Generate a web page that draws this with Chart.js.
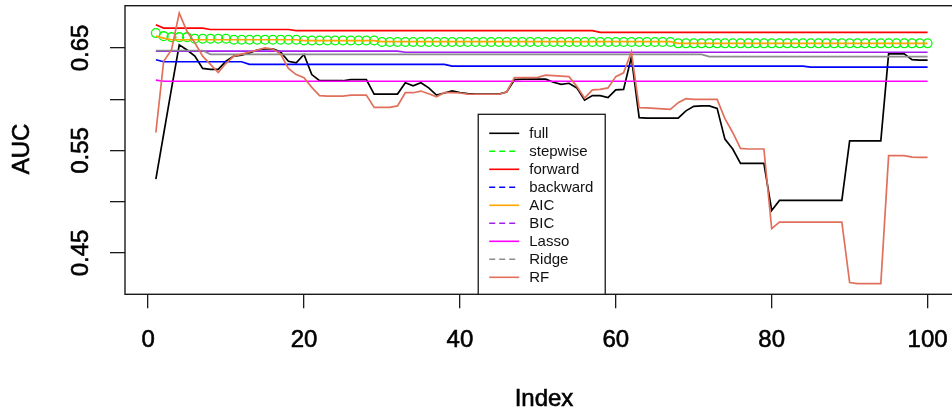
<!DOCTYPE html>
<html>
<head>
<meta charset="utf-8">
<script src="https://cdn.jsdelivr.net/npm/chart.js@4.4.1/dist/chart.umd.min.js"></script>
<style>
  html, body { margin: 0; padding: 0; background: #fff; }
</style>
</head>
<body>
<canvas id="aucChart" width="952" height="414"></canvas>
<script>
// index 1..100 (x axis)
const runIndex = Array.from({ length: 100 }, (_, i) => i + 1);

const xTicks = [0, 20, 40, 60, 80, 100];
const yTicks = [0.45, 0.50, 0.55, 0.60, 0.65];
const yTickLabels = ["0.45", "0.55", "0.65"];

const full = [
  0.522, 0.566, 0.610, 0.653, 0.648, 0.642, 0.630, 0.629, 0.629, 0.637,
  0.642, 0.643, 0.645, 0.648, 0.649, 0.649, 0.646, 0.637, 0.6355, 0.6436,
  0.624, 0.618, 0.618, 0.618, 0.618, 0.619, 0.619, 0.619, 0.605, 0.605,
  0.605, 0.605, 0.616, 0.613, 0.616, 0.611, 0.604, 0.606, 0.608, 0.6065,
  0.6055, 0.605, 0.605, 0.605, 0.605, 0.607, 0.619, 0.6195, 0.6195, 0.6195,
  0.6195, 0.6165, 0.6145, 0.6155, 0.611, 0.599, 0.6035, 0.6035, 0.6015, 0.609,
  0.6096, 0.641, 0.582, 0.5815, 0.5815, 0.5815, 0.5815, 0.5815, 0.5886, 0.593,
  0.5934, 0.5934, 0.591, 0.561, 0.5514, 0.5374, 0.5374, 0.5374, 0.5374, 0.4914,
  0.5012, 0.5012, 0.5012, 0.5012, 0.5012, 0.5012, 0.5012, 0.5012, 0.5012, 0.5594,
  0.5594, 0.5594, 0.5594, 0.5594, 0.6442, 0.6442, 0.6442, 0.6385, 0.638, 0.638
];

const stepwise = [
  0.6645, 0.6615, 0.6605, 0.6605, 0.6605, 0.659, 0.659, 0.659, 0.659, 0.659,
  0.658, 0.658, 0.658, 0.658, 0.658, 0.658, 0.658, 0.658, 0.658, 0.6572,
  0.6572, 0.6572, 0.6572, 0.6572, 0.6572, 0.6572, 0.6572, 0.6572, 0.6572, 0.6558,
  0.6558, 0.6558, 0.6558, 0.6558, 0.6558, 0.6558, 0.6558, 0.6558, 0.6558, 0.6558,
  0.6558, 0.6558, 0.6558, 0.6558, 0.6558, 0.6558, 0.6558, 0.6558, 0.6558, 0.6558,
  0.6558, 0.6558, 0.6558, 0.6558, 0.6558, 0.6558, 0.6558, 0.6558, 0.6558, 0.6558,
  0.6558, 0.6558, 0.6558, 0.6558, 0.6558, 0.6558, 0.6558, 0.6545, 0.6545, 0.6545,
  0.6545, 0.6545, 0.6545, 0.6545, 0.6545, 0.6545, 0.6545, 0.6545, 0.6545, 0.6545,
  0.6545, 0.6545, 0.6545, 0.6545, 0.6545, 0.6545, 0.6545, 0.6545, 0.6545, 0.6545,
  0.6545, 0.6545, 0.6545, 0.6545, 0.6545, 0.6545, 0.6545, 0.6545, 0.6545, 0.6545
];

const forward = [
  0.6727, 0.6694, 0.6694, 0.6694, 0.6694, 0.6694, 0.6694, 0.668, 0.668, 0.668,
  0.668, 0.668, 0.668, 0.668, 0.668, 0.668, 0.668, 0.668, 0.6669, 0.6669,
  0.6669, 0.6669, 0.6669, 0.6669, 0.6669, 0.6669, 0.6669, 0.6669, 0.6669, 0.6669,
  0.6669, 0.6669, 0.6669, 0.6669, 0.6669, 0.6669, 0.6669, 0.6669, 0.6669, 0.6669,
  0.6669, 0.6669, 0.6669, 0.6669, 0.6669, 0.6669, 0.6669, 0.6669, 0.6669, 0.6669,
  0.6669, 0.6669, 0.6669, 0.6669, 0.6669, 0.6669, 0.6669, 0.6652, 0.6652, 0.6652,
  0.6652, 0.6652, 0.6652, 0.6652, 0.6652, 0.6652, 0.6652, 0.6652, 0.6652, 0.6652,
  0.6652, 0.6652, 0.6652, 0.6652, 0.6652, 0.6652, 0.6652, 0.6652, 0.6652, 0.6652,
  0.6652, 0.6652, 0.6652, 0.6652, 0.6652, 0.6652, 0.6652, 0.6652, 0.6652, 0.6652,
  0.6652, 0.6652, 0.6652, 0.6652, 0.6652, 0.6652, 0.6652, 0.6652, 0.6652, 0.6652
];

const backward = [
  0.6385, 0.6365, 0.6365, 0.6365, 0.6365, 0.6365, 0.6365, 0.6365, 0.6365, 0.6365,
  0.6365, 0.6365, 0.634, 0.634, 0.634, 0.634, 0.634, 0.634, 0.634, 0.634,
  0.634, 0.634, 0.634, 0.634, 0.634, 0.634, 0.634, 0.634, 0.634, 0.634,
  0.634, 0.634, 0.634, 0.634, 0.634, 0.634, 0.634, 0.634, 0.6322, 0.6322,
  0.6322, 0.6322, 0.6322, 0.6322, 0.6322, 0.6322, 0.6322, 0.6322, 0.6322, 0.6322,
  0.6322, 0.6322, 0.6322, 0.6322, 0.6322, 0.6322, 0.6322, 0.6322, 0.6322, 0.6322,
  0.6322, 0.6322, 0.6322, 0.6322, 0.6322, 0.6322, 0.6322, 0.6322, 0.6322, 0.6322,
  0.6322, 0.6322, 0.6322, 0.6322, 0.6322, 0.6322, 0.6322, 0.6322, 0.6322, 0.6322,
  0.6322, 0.6322, 0.6322, 0.6322, 0.6312, 0.6312, 0.6312, 0.6312, 0.6312, 0.6312,
  0.6312, 0.6312, 0.6312, 0.6312, 0.6312, 0.6312, 0.6312, 0.6312, 0.6312, 0.6312
];

const aic = [
  0.6615, 0.6595, 0.658, 0.658, 0.658, 0.658, 0.658, 0.658, 0.658, 0.658,
  0.658, 0.658, 0.658, 0.658, 0.658, 0.658, 0.658, 0.658, 0.658, 0.6572,
  0.6572, 0.6572, 0.6572, 0.6572, 0.6572, 0.6572, 0.6572, 0.6572, 0.6572, 0.6562,
  0.6562, 0.6562, 0.6562, 0.6562, 0.6562, 0.6562, 0.6562, 0.6562, 0.6562, 0.6562,
  0.6562, 0.6562, 0.6562, 0.6562, 0.6562, 0.6562, 0.6562, 0.6562, 0.6562, 0.6562,
  0.6562, 0.6562, 0.6562, 0.6562, 0.6562, 0.6562, 0.6562, 0.6562, 0.6562, 0.6562,
  0.6562, 0.6562, 0.6562, 0.6562, 0.6562, 0.6562, 0.6562, 0.6545, 0.6545, 0.6545,
  0.6545, 0.6545, 0.6545, 0.6545, 0.6545, 0.6545, 0.6545, 0.6545, 0.6545, 0.6545,
  0.6545, 0.6545, 0.6545, 0.6545, 0.6545, 0.6545, 0.6545, 0.6545, 0.6545, 0.6545,
  0.6545, 0.6545, 0.6545, 0.6545, 0.6545, 0.6545, 0.6545, 0.6545, 0.6545, 0.6545
];

const bic = [
  0.6468, 0.6468, 0.6468, 0.6468, 0.6468, 0.6468, 0.6468, 0.6468, 0.6468, 0.6468,
  0.6468, 0.6468, 0.6468, 0.6468, 0.6468, 0.6468, 0.6468, 0.6468, 0.6468, 0.6468,
  0.6468, 0.6468, 0.6468, 0.6468, 0.6468, 0.6468, 0.6468, 0.6468, 0.6468, 0.6468,
  0.6468, 0.6468, 0.6458, 0.6458, 0.6458, 0.6458, 0.6458, 0.6458, 0.6458, 0.6458,
  0.6458, 0.6458, 0.6458, 0.6458, 0.6458, 0.6458, 0.6458, 0.6458, 0.6458, 0.6458,
  0.6458, 0.6458, 0.6458, 0.6458, 0.6458, 0.6458, 0.6458, 0.6458, 0.6458, 0.6458,
  0.6458, 0.6458, 0.6458, 0.6458, 0.6458, 0.6458, 0.6458, 0.6458, 0.6458, 0.6458,
  0.6458, 0.6458, 0.6458, 0.6458, 0.6458, 0.6458, 0.6458, 0.6458, 0.6458, 0.6458,
  0.6458, 0.6458, 0.6458, 0.6458, 0.6458, 0.6458, 0.6458, 0.6458, 0.6458, 0.6458,
  0.6458, 0.6458, 0.6458, 0.6458, 0.6458, 0.6458, 0.6458, 0.6458, 0.6458, 0.6458
];

const lasso = [
  0.6185, 0.6175, 0.6175, 0.6175, 0.6175, 0.6175, 0.6175, 0.6175, 0.6175, 0.6175,
  0.6175, 0.6175, 0.6175, 0.6175, 0.6175, 0.6175, 0.6175, 0.6175, 0.6175, 0.6175,
  0.6175, 0.6175, 0.6175, 0.6175, 0.6175, 0.6175, 0.6175, 0.6175, 0.6175, 0.6175,
  0.6175, 0.6175, 0.6175, 0.6175, 0.6175, 0.6175, 0.6175, 0.6175, 0.6175, 0.6175,
  0.6175, 0.6175, 0.6175, 0.6175, 0.6175, 0.6175, 0.6175, 0.6175, 0.6175, 0.6175,
  0.6175, 0.6175, 0.6175, 0.6175, 0.6175, 0.6175, 0.6175, 0.6175, 0.6175, 0.6175,
  0.6175, 0.6175, 0.6175, 0.6175, 0.6175, 0.6175, 0.6175, 0.6175, 0.6175, 0.6175,
  0.6175, 0.6175, 0.6175, 0.6175, 0.6175, 0.6175, 0.6175, 0.6175, 0.6175, 0.6175,
  0.6175, 0.6175, 0.6175, 0.6175, 0.6175, 0.6175, 0.6175, 0.6175, 0.6175, 0.6175,
  0.6175, 0.6175, 0.6175, 0.6175, 0.6175, 0.6175, 0.6175, 0.6175, 0.6175, 0.6175
];

const ridge = [
  0.6475, 0.6475, 0.6475, 0.6475, 0.6475, 0.6475, 0.6475, 0.6437, 0.6437, 0.6437,
  0.6437, 0.6437, 0.6437, 0.6437, 0.6437, 0.6437, 0.6437, 0.6437, 0.6437, 0.6437,
  0.6437, 0.6437, 0.6437, 0.6437, 0.6437, 0.6437, 0.6437, 0.6437, 0.6437, 0.6437,
  0.6437, 0.6437, 0.6437, 0.6437, 0.6437, 0.6437, 0.6437, 0.6437, 0.6437, 0.6437,
  0.6437, 0.6437, 0.6437, 0.6437, 0.6437, 0.6437, 0.6437, 0.6437, 0.6437, 0.6437,
  0.6437, 0.6437, 0.6437, 0.6437, 0.6437, 0.6437, 0.6437, 0.6437, 0.6437, 0.6437,
  0.6437, 0.6437, 0.6437, 0.6437, 0.6437, 0.6437, 0.6437, 0.6437, 0.6437, 0.6437,
  0.6437, 0.6415, 0.6415, 0.6415, 0.6415, 0.6415, 0.6415, 0.6415, 0.6415, 0.6415,
  0.6415, 0.6415, 0.6415, 0.6415, 0.6415, 0.6415, 0.6415, 0.6415, 0.6415, 0.6415,
  0.6415, 0.6415, 0.6415, 0.6415, 0.6415, 0.6415, 0.6415, 0.6415, 0.6415, 0.6415
];

const rf = [
  0.5675, 0.637, 0.648, 0.684, 0.666, 0.655, 0.642, 0.634, 0.626, 0.635,
  0.642, 0.644, 0.646, 0.648, 0.650, 0.649, 0.644, 0.630, 0.624, 0.621,
  0.6115, 0.6035, 0.603, 0.603, 0.603, 0.604, 0.604, 0.604, 0.592, 0.592,
  0.592, 0.5934, 0.6063, 0.6063, 0.6079, 0.6053, 0.6024, 0.6063, 0.6063, 0.606,
  0.605, 0.6048, 0.6048, 0.6048, 0.6048, 0.607, 0.621, 0.621, 0.621, 0.6213,
  0.6235, 0.623, 0.6225, 0.622, 0.6125, 0.601, 0.609, 0.6096, 0.611, 0.622,
  0.6257, 0.646, 0.5917, 0.5915, 0.591, 0.5905, 0.590, 0.5966, 0.6005, 0.5998,
  0.5998, 0.5998, 0.5998, 0.581, 0.5675, 0.552, 0.5514, 0.5514, 0.5514, 0.4737,
  0.4801, 0.4801, 0.4801, 0.4801, 0.4801, 0.4801, 0.4801, 0.4801, 0.4801, 0.421,
  0.420, 0.420, 0.420, 0.420, 0.5449, 0.5449, 0.5449, 0.5435, 0.5433, 0.5432
];

const seriesNames = ["full", "stepwise", "forward", "backward", "AIC", "BIC", "Lasso", "Ridge", "RF"];
const seriesValues = [full, stepwise, forward, backward, aic, bic, lasso, ridge, rf];
const seriesColors = ["#000000", "#00ff00", "#ff0000", "#0000ff", "#ffa500", "#a020f0", "#ff00ff", "#8c8c8c", "#e0705c"];
const legendDashed = [false, true, false, true, false, true, false, true, false];

const FONT = '"Liberation Sans", Arial, sans-serif';

const datasets = seriesNames.map((name, k) => {
  const ds = {
    label: name,
    data: seriesValues[k].map((v, i) => ({ x: runIndex[i], y: v })),
    borderColor: seriesColors[k],
    backgroundColor: seriesColors[k],
    borderWidth: 1.7,
    pointRadius: 0,
    tension: 0,
    order: seriesNames.length - k
  };
  if (name === "stepwise") {
    ds.showLine = false;
    ds.pointRadius = 4.4;
    ds.pointBorderWidth = 1.3;
    ds.pointBackgroundColor = "rgba(0,0,0,0)";
    ds.pointBorderColor = seriesColors[k];
  }
  return ds;
});

// draw text a little heavier, like the blurred R output
function heavyText(ctx, txt, px, py) {
  ctx.fillText(txt, px, py);
  ctx.strokeText(txt, px, py);
}

const decor = {
  id: "decor",
  afterDraw(chart) {
    const { ctx, chartArea: a, scales: { x, y } } = chart;
    ctx.save();

    // plot box (right edge falls off the picture)
    ctx.strokeStyle = "#1a1a1a";
    ctx.lineWidth = 1.4;
    ctx.strokeRect(a.left, a.top, a.right - a.left + 20, a.bottom - a.top);

    ctx.fillStyle = "#000";
    ctx.strokeStyle = "#000";
    ctx.lineWidth = 0.6;
    ctx.font = "24px " + FONT;
    ctx.textAlign = "center";
    ctx.textBaseline = "middle";

    yTickLabels.forEach(t => {
      ctx.save();
      ctx.translate(81, y.getPixelForValue(parseFloat(t)));
      ctx.rotate(-Math.PI / 2);
      heavyText(ctx, t, 0, 0);
      ctx.restore();
    });
    xTicks.forEach(t => heavyText(ctx, String(t), x.getPixelForValue(t), 340));

    heavyText(ctx, "Index", 544, 399);
    ctx.save();
    ctx.translate(22, 149);
    ctx.rotate(-Math.PI / 2);
    heavyText(ctx, "AUC", 0, 0);
    ctx.restore();

    // legend, "bottom" of the plot region
    const cx = x.getPixelForValue(50.5);
    const bw = 127, top = 114.3;
    const bx = cx - bw / 2;
    ctx.fillStyle = "#fff";
    ctx.fillRect(bx, top, bw, a.bottom - top);
    ctx.strokeStyle = "#1a1a1a";
    ctx.lineWidth = 1.3;
    ctx.strokeRect(bx, top, bw, a.bottom - top);

    ctx.font = "15px " + FONT;
    ctx.textAlign = "left";
    seriesNames.forEach((name, k) => {
      const ly = top + 19 + k * 18;
      ctx.strokeStyle = seriesColors[k];
      ctx.lineWidth = 1.6;
      ctx.setLineDash(legendDashed[k] ? [6, 4] : []);
      ctx.beginPath();
      ctx.moveTo(bx + 11, ly);
      ctx.lineTo(bx + 41, ly);
      ctx.stroke();
      ctx.setLineDash([]);
      ctx.fillStyle = "#111";
      ctx.fillText(name, bx + 51, ly + 1);
    });
    ctx.restore();
  }
};

new Chart(document.getElementById("aucChart"), {
  type: "line",
  data: { datasets },
  options: {
    responsive: false,
    animation: false,
    devicePixelRatio: 1,
    layout: { padding: { top: 4.3, left: 0, right: 0, bottom: 0 } },
    plugins: { legend: { display: false }, tooltip: { enabled: false } },
    scales: {
      x: {
        type: "linear",
        min: -2.96,
        max: 102.4,
        afterFit: s => { s.height = 119.7; },
        afterBuildTicks: s => { s.ticks = xTicks.map(v => ({ value: v })); },
        ticks: { display: false },
        border: { display: false },
        grid: { drawOnChartArea: false, drawTicks: true, tickLength: 14, color: "#1a1a1a", lineWidth: 1.3 }
      },
      y: {
        min: 0.4096,
        max: 0.6912,
        afterFit: s => { s.width = 125; },
        afterBuildTicks: s => { s.ticks = yTicks.map(v => ({ value: v })); },
        ticks: { display: false },
        border: { display: false },
        grid: { drawOnChartArea: false, drawTicks: true, tickLength: 15, color: "#1a1a1a", lineWidth: 1.3 }
      }
    }
  },
  plugins: [decor]
});
</script>
</body>
</html>
